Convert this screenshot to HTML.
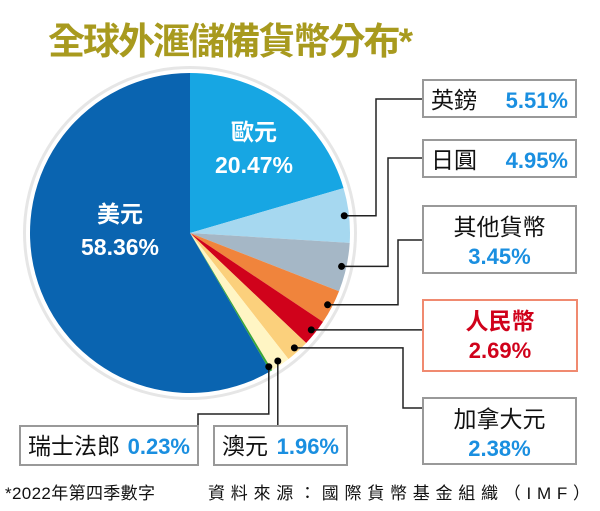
<!DOCTYPE html>
<html><head><meta charset="utf-8">
<style>
body{margin:0;background:#fff;width:600px;height:506px;overflow:hidden;font-family:"Liberation Sans","Noto Sans CJK TC",sans-serif;}
svg text{font-family:"Liberation Sans","Noto Sans CJK TC",sans-serif;}
</style></head><body>
<svg id="chart" width="600" height="506" viewBox="0 0 600 506">
<text x="48" y="54" font-size="37" font-weight="bold" fill="#a89a1e" textLength="365">全球外滙儲備貨幣分布*</text>
<circle cx="190" cy="233" r="167" fill="#e6e6e6"/>
<circle cx="190" cy="233" r="164" fill="#fff"/>
<g id="slices"></g>
<g id="connectors"></g>
<g id="boxes"></g>
<text x="5" y="499" font-size="17" fill="#111" textLength="150">*2022年第四季數字</text>
<text x="208" y="499" font-size="17" fill="#111" textLength="382">資料來源：國際貨幣基金組織（IMF）</text>
</svg>
<script>
const currencies=["歐元","英鎊","日圓","其他貨幣","人民幣","加拿大元","澳元","瑞士法郎","美元"];
const shares=[20.47,5.51,4.95,3.45,2.69,2.38,1.96,0.23,58.36];
const labels=["20.47%","5.51%","4.95%","3.45%","2.69%","2.38%","1.96%","0.23%","58.36%"];
const colors=["#17a6e3","#a6d8f0","#a5b7c6","#f0843c","#d0021b","#fbd07c","#fff5c4","#3aa635","#0a64b0"];
const NS="http://www.w3.org/2000/svg";
const cx=190,cy=233,R=160;
const total=shares.reduce((a,b)=>a+b,0);
function pt(a,r){return [cx+r*Math.sin(a),cy-r*Math.cos(a)];}
function mk(tag,attrs,parent){const e=document.createElementNS(NS,tag);for(const k in attrs)e.setAttribute(k,attrs[k]);parent.appendChild(e);return e;}
const gS=document.getElementById('slices'),gC=document.getElementById('connectors'),gB=document.getElementById('boxes');
let acc=0;const mids=[];
shares.forEach((v,i)=>{
  const a0=acc/total*2*Math.PI;acc+=v;const a1=acc/total*2*Math.PI;
  mids.push((a0+a1)/2);
  const p0=pt(a0,R),p1=pt(a1,R);const large=(a1-a0)>Math.PI?1:0;
  const p=mk('path',{d:`M${cx},${cy}L${p0[0]},${p0[1]}A${R},${R} 0 ${large} 1 ${p1[0]},${p1[1]}Z`,fill:colors[i]},gS);
  
  
});
function inLabel(i,x,y){
  const t1=mk('text',{x:x,y:y,'font-size':23,'font-weight':'bold',fill:'#fff','text-anchor':'middle'},gS);t1.textContent=currencies[i];
  
  
  const t2=mk('text',{x:x,y:y+33,'font-size':23,'font-weight':'bold',fill:'#fff','text-anchor':'middle'},gS);t2.textContent=labels[i];
  
  
}
inLabel(0,254,140);
inLabel(8,120,222);
const boxDefs=[
 [1,423,80,153,37,false],[2,423,140,153,37,false],[3,423,206,153,67,true],
 [4,423,300,154,71,true],[5,423,398,153,66,true],[7,20,426,178,39,false],[6,214,426,133,39,false]];
boxDefs.forEach(b=>{
  const [i,x,y,w,h,two]=b;const red=i===4;
  const r=mk('rect',{x:x,y:y,width:w,height:h,fill:'#fff',stroke:red?'#f08a70':'#999','stroke-width':2},gB);
  
  
  const vc=red?'#d0021b':'#1a8fe0';const nc=red?'#d0021b':'#111';
  if(two){
    const t1=mk('text',{x:x+w/2,y:y+29,'font-size':23,'font-weight':red?'bold':'normal',fill:nc,'text-anchor':'middle'},gB);t1.textContent=currencies[i];
    
    
    const t2=mk('text',{x:x+w/2,y:y+58,'font-size':22,'font-weight':'bold',fill:vc,'text-anchor':'middle'},gB);t2.textContent=labels[i];
    
    
  }else{
    const t1=mk('text',{x:x+8,y:y+28,'font-size':23,fill:nc},gB);t1.textContent=currencies[i];
    
    
    const t2=mk('text',{x:x+w-8,y:y+28,'font-size':22,'font-weight':'bold',fill:vc,'text-anchor':'end'},gB);t2.textContent=labels[i];
    
    
  }
});
function conn(i,pathFn){
  const d=pt(mids[i],R*0.97);
  const l=mk('polyline',{points:pathFn(d).map(p=>p.join(',')).join(' '),fill:'none',stroke:'#222','stroke-width':1.5},gC);
  
  
  const c=mk('circle',{cx:d[0],cy:d[1],r:3.5,fill:'#000'},gC);
  
  
}
conn(1,d=>[d,[376,d[1]],[376,99],[423,99]]);
conn(2,d=>[d,[388,d[1]],[388,158],[423,158]]);
conn(3,d=>[d,[398,d[1]],[398,240],[423,240]]);
conn(4,d=>[d,[423,d[1]]]);
conn(5,d=>[d,[403,d[1]],[403,408],[423,408]]);
conn(6,d=>[d,[d[0],426]]);
conn(7,d=>[d,[d[0],414],[198,414],[198,426]]);
</script>
</body></html>
